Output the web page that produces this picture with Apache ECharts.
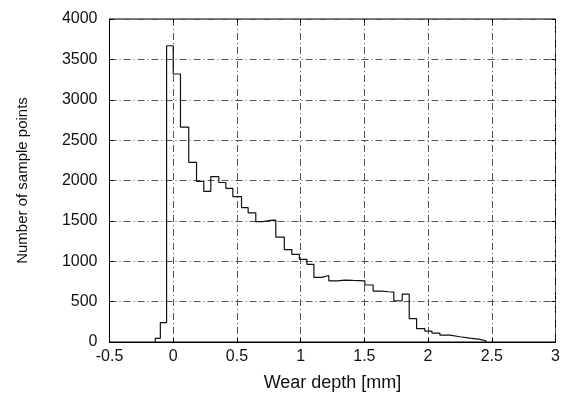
<!DOCTYPE html>
<html>
<head>
<meta charset="utf-8">
<script src="https://cdn.jsdelivr.net/npm/echarts@6/dist/echarts.min.js"></script>
<style>
  html, body { margin: 0; padding: 0; background: #fff; }
  #chart { width: 565px; height: 403px; }
</style>
</head>
<body>
<div id="chart"></div>
<script>
// histogram bin edges (mm)
let binEdges = [-0.141, -0.101, -0.052, 0.0, 0.057, 0.122, 0.183, 0.240, 0.295, 0.358,
    0.413, 0.468, 0.536, 0.588, 0.648, 0.703, 0.755, 0.805, 0.872, 0.931,
    0.990, 1.049, 1.104, 1.164, 1.221, 1.286, 1.347, 1.410, 1.504, 1.569,
    1.635, 1.690, 1.731, 1.797, 1.852, 1.910, 1.975, 2.030, 2.093, 2.171,
    2.250, 2.328, 2.407, 2.454];

// number of sample points in each bin
let binCounts = [45, 240, 3669, 3319, 2660, 2225, 1990, 1865, 2047, 1975,
    1903, 1800, 1663, 1600, 1490, 1505, 1510, 1300, 1145, 1085,
    1024, 962, 800, 824, 757, 767, 762, 758, 706, 630,
    622, 618, 511, 594, 290, 165, 135, 110, 85, 65,
    48, 33, 15];

let xTicks = [-0.5, 0, 0.5, 1, 1.5, 2, 2.5, 3];
let yTicks = [0, 500, 1000, 1500, 2000, 2500, 3000, 3500, 4000];

// step outline: start on the baseline, one point per bin, back to baseline
let stepData = [[binEdges[0], 0]];
for (let i = 0; i < binCounts.length; i++) {
    stepData.push([binEdges[i], binCounts[i]]);
}
stepData.push([binEdges[binEdges.length - 1], 0]);

let font = 'Liberation Sans, Arial, sans-serif';
let gridLine = {
    show: true,
    lineStyle: { color: '#555', width: 1, type: [7, 3, 1, 3] }
};
let tick = { show: true, inside: true, length: 4, lineStyle: { color: '#000' } };
let plain = v => String(v);

let chart = echarts.init(document.getElementById('chart'));
chart.setOption({
    animation: false,
    backgroundColor: '#fff',
    grid: {
        left: 109.5, right: 9.5, top: 19, bottom: 61,
        show: true, borderColor: '#000', borderWidth: 1
    },
    xAxis: [{
        type: 'value',
        min: xTicks[0], max: xTicks[xTicks.length - 1], interval: 0.5,
        name: 'Wear depth [mm]',
        nameLocation: 'middle',
        nameGap: 32,
        nameTextStyle: { color: '#111', fontSize: 18, fontFamily: font },
        axisLine: { show: true, onZero: false, lineStyle: { color: '#000' } },
        axisTick: tick,
        axisLabel: { color: '#111', fontSize: 16, fontFamily: font, margin: 7, formatter: plain },
        splitLine: gridLine
    }, {
        type: 'value', position: 'top',
        min: xTicks[0], max: xTicks[xTicks.length - 1], interval: 0.5,
        axisLine: { show: false, onZero: false }, axisTick: tick,
        axisLabel: { show: false }, splitLine: { show: false }
    }],
    yAxis: [{
        type: 'value',
        min: yTicks[0], max: yTicks[yTicks.length - 1], interval: 500,
        name: 'Number of sample points',
        nameLocation: 'middle',
        nameGap: 79,
        nameTextStyle: { color: '#111', fontSize: 15, fontFamily: font },
        axisLine: { show: true, onZero: false, lineStyle: { color: '#000' } },
        axisTick: tick,
        axisLabel: { color: '#111', fontSize: 16, fontFamily: font, margin: 12, formatter: plain },
        splitLine: gridLine
    }, {
        type: 'value', position: 'right',
        min: yTicks[0], max: yTicks[yTicks.length - 1], interval: 500,
        axisLine: { show: false, onZero: false }, axisTick: tick,
        axisLabel: { show: false }, splitLine: { show: false }
    }],
    series: [{
        type: 'line',
        step: 'end',
        data: stepData,
        showSymbol: false,
        symbol: 'none',
        lineStyle: { color: '#111', width: 1.2 },
        z: 5
    }]
});
</script>
</body>
</html>
